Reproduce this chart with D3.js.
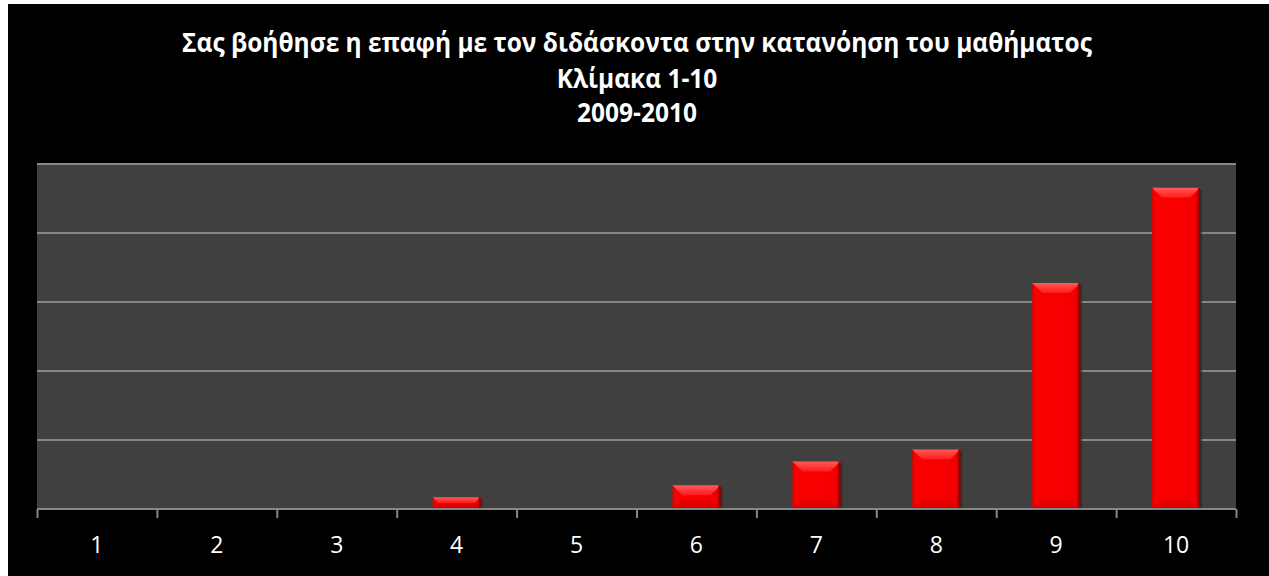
<!DOCTYPE html>
<html><head><meta charset="utf-8">
<script src="https://cdn.jsdelivr.net/npm/d3@7"></script>
<style>html,body{margin:0;padding:0;background:#fff;}svg{display:block;}</style>
</head><body>
<svg id="chart" width="1269" height="576"></svg>
<script>
const titleLines = ["Σας βοήθησε η επαφή με τον διδάσκοντα στην κατανόηση του μαθήματος", "Κλίμακα 1-10", "2009-2010"];
const categories = ["1","2","3","4","5","6","7","8","9","10"];
const values = [0, 0, 0, 1.72, 0, 3.45, 6.90, 8.62, 32.76, 46.55];
const gridTicks = [0, 10, 20, 30, 40, 50];

(function(){
const svg = d3.select("#chart");
const W = 1269, H = 576;
const pLeft = 37, pRight = 1236, pTop = 164, pBottom = 509;

svg.append("rect").attr("x", 8).attr("y", 4).attr("width", W - 8).attr("height", H - 4).attr("fill", "#000");

const x = d3.scaleBand().domain(categories).range([pLeft, pRight]).paddingInner(0.6).paddingOuter(0.3);
const y = d3.scaleLinear().domain([0, 50]).range([pBottom, pTop]);
const xb = d3.scaleLinear().domain([0, categories.length]).range([pLeft, pRight]);

svg.append("rect").attr("x", pLeft).attr("y", pTop).attr("width", pRight - pLeft).attr("height", pBottom - pTop).attr("fill", "#404040");

svg.append("g").selectAll("line").data(gridTicks.filter(d => d > 0)).join("line")
  .attr("x1", pLeft).attr("x2", pRight).attr("y1", d => y(d)).attr("y2", d => y(d))
  .attr("stroke", "#868686").attr("stroke-width", 2);

const defs = svg.append("defs");
const gMain = defs.append("linearGradient").attr("id", "gMain").attr("x1", 0).attr("x2", 1).attr("y1", 0).attr("y2", 0);
gMain.append("stop").attr("offset", 0).attr("stop-color", "#d80000");
gMain.append("stop").attr("offset", 0.06).attr("stop-color", "#fa0000");
gMain.append("stop").attr("offset", 0.9).attr("stop-color", "#f40000");
gMain.append("stop").attr("offset", 1).attr("stop-color", "#b80000");
const gTop = defs.append("linearGradient").attr("id", "gTop").attr("x1", 0).attr("x2", 0).attr("y1", 0).attr("y2", 1);
gTop.append("stop").attr("offset", 0).attr("stop-color", "#ff5a5a");
gTop.append("stop").attr("offset", 1).attr("stop-color", "#ff1a1a");
const gBot = defs.append("linearGradient").attr("id", "gBot").attr("x1", 0).attr("x2", 0).attr("y1", 0).attr("y2", 1);
gBot.append("stop").attr("offset", 0).attr("stop-color", "#ee0000");
gBot.append("stop").attr("offset", 1).attr("stop-color", "#c80000");

const bars = svg.append("g").selectAll("g").data(categories.map((c, i) => ({c, v: values[i]})).filter(d => d.v > 0)).join("g");
bars.each(function(d) {
  const g = d3.select(this);
  const x0 = x(d.c), w = x.bandwidth(), y0 = y(d.v), h = y(0) - y(d.v);
  const b = Math.min(10, h / 2);
  g.append("rect").attr("x", x0 + 2).attr("y", y0 + 2).attr("width", w).attr("height", h - 2).attr("fill", "#262626").attr("opacity", 0.7);
  g.append("rect").attr("x", x0).attr("y", y0).attr("width", w).attr("height", h).attr("fill", "url(#gMain)");
  g.append("polygon").attr("points", [[x0, y0], [x0 + w, y0], [x0 + w - b, y0 + b], [x0 + b, y0 + b]].map(p => p.join(",")).join(" ")).attr("fill", "url(#gTop)");
  g.append("polygon").attr("points", [[x0, y0 + h], [x0 + w, y0 + h], [x0 + w - b, y0 + h - b], [x0 + b, y0 + h - b]].map(p => p.join(",")).join(" ")).attr("fill", "url(#gBot)").attr("opacity", 0.8);
  g.append("rect").attr("x", x0 + w - 2).attr("y", y0).attr("width", 2).attr("height", h).attr("fill", "#a00000");
});

const axis = d3.axisBottom(xb).tickValues(d3.range(0, categories.length + 1)).tickSize(9).tickFormat("");
const ag = svg.append("g").attr("transform", `translate(0,${pBottom})`).call(axis);
ag.select(".domain").attr("stroke", "#868686").attr("stroke-width", 2).attr("d", `M${pLeft},0H${pRight}`);
ag.selectAll(".tick line").attr("stroke", "#868686").attr("stroke-width", 2);

svg.append("g").selectAll("text").data(categories).join("text")
  .attr("x", d => x(d) + x.bandwidth() / 2).attr("y", 553)
  .attr("text-anchor", "middle").attr("fill", "#fff")
  .attr("font-family", "'Open Sans', sans-serif").attr("font-size", 23)
  .text(d => d);

const fs = 26;
const tg = svg.append("g");
const tInner = tg.append("g");
const t1 = tInner.append("text").attr("x", 0).attr("y", 52).attr("text-anchor", "middle").attr("fill", "#fff")
  .attr("font-family", "'Open Sans', sans-serif").attr("font-weight", "bold").attr("font-size", fs).text(titleLines[0]);
const len = t1.node().getComputedTextLength();
const sx = 910 / len;
[titleLines[1], titleLines[2]].forEach((t, i) => {
  tInner.append("text").attr("x", 0).attr("y", 88 + i * 34).attr("text-anchor", "middle").attr("fill", "#fff")
    .attr("font-family", "'Open Sans', sans-serif").attr("font-weight", "bold").attr("font-size", fs).text(t);
});
tg.attr("transform", `translate(637,0) scale(${sx},1)`);
})();
</script>
</body></html>
